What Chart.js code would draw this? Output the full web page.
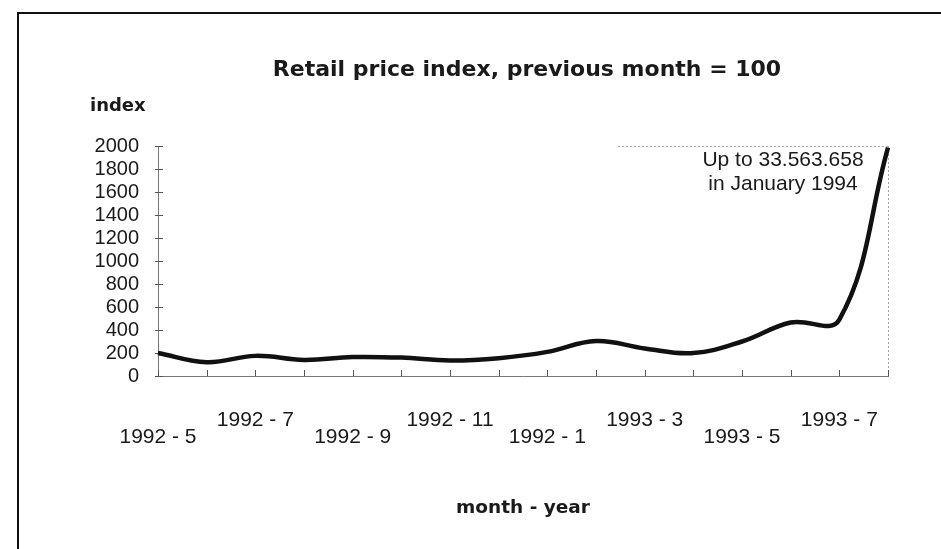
<!DOCTYPE html>
<html>
<head>
<meta charset="utf-8">
<title>Retail price index</title>
<script src="https://cdn.jsdelivr.net/npm/chart.js@4/dist/chart.umd.min.js"></script>
<style>
  html, body { margin: 0; padding: 0; background: #fff; }
  #wrap { width: 941px; height: 549px; position: relative; }
</style>
</head>
<body>
<div id="wrap"><canvas id="chartRpi"></canvas></div>
<script>
// months May 1992 .. Aug 1993
const months = ["1992-05", "1992-06", "1992-07", "1992-08", "1992-09", "1992-10", "1992-11", "1992-12",
                "1993-01", "1993-02", "1993-03", "1993-04", "1993-05", "1993-06", "1993-07", "1993-08"];

// tick labels as printed (every second month, "1992 - 1" kept as in the source)
const tickLabels = ["1992 - 5", "", "1992 - 7", "", "1992 - 9", "", "1992 - 11", "",
                    "1992 - 1", "", "1993 - 3", "", "1993 - 5", "", "1993 - 7", ""];

// retail price index, previous month = 100
const priceIndex = [200, 120, 175, 140, 165, 160, 135, 155, 210, 305, 240, 200, 300, 465, 490, 1985];

const yTicks = [0, 200, 400, 600, 800, 1000, 1200, 1400, 1600, 1800, 2000];

const chartTitle = "Retail price index, previous month = 100";
const yTitle = "index";
const xTitle = "month - year";
const note = ["Up to 33.563.658", "in January 1994"];

const extras = {
  id: "extras",
  beforeDraw(chart) {
    const ctx = chart.ctx;
    ctx.save();
    ctx.fillStyle = "#fff";
    ctx.fillRect(0, 0, chart.width, chart.height);
    ctx.restore();
  },
  beforeDatasetsDraw(chart) {
    const ctx = chart.ctx;
    const a = chart.chartArea;
    const x = chart.scales.x;
    const y = chart.scales.y;
    ctx.save();

    // faint dotted top / right border of the plot
    ctx.strokeStyle = "#a8a8a8";
    ctx.lineWidth = 1;
    ctx.setLineDash([2, 2]);
    ctx.beginPath();
    ctx.moveTo(a.left + (a.right - a.left) * 0.63, a.top + 0.5);
    ctx.lineTo(a.right, a.top + 0.5);
    ctx.moveTo(a.right + 0.5, a.top);
    ctx.lineTo(a.right + 0.5, a.bottom);
    ctx.stroke();
    ctx.setLineDash([]);

    // small tick marks
    ctx.strokeStyle = "#555";
    ctx.beginPath();
    months.forEach((m, i) => {
      const px = Math.round(x.getPixelForValue(i)) + 0.5;
      ctx.moveTo(px, a.bottom - 6);
      ctx.lineTo(px, a.bottom);
    });
    yTicks.forEach(v => {
      const py = Math.round(y.getPixelForValue(v)) + 0.5;
      ctx.moveTo(a.left - 3, py);
      ctx.lineTo(a.left + 5, py);
    });
    ctx.stroke();
    ctx.restore();
  },
  afterDraw(chart) {
    const ctx = chart.ctx;
    ctx.save();

    // scanned frame
    ctx.strokeStyle = "#111";
    ctx.lineWidth = 2;
    ctx.beginPath();
    ctx.moveTo(18, chart.height);
    ctx.lineTo(18, 13);
    ctx.lineTo(chart.width, 13);
    ctx.stroke();

    ctx.fillStyle = "#1a1a1a";
    ctx.textBaseline = "middle";

    ctx.font = "bold 22px 'DejaVu Sans'";
    ctx.textAlign = "center";
    ctx.fillText(chartTitle, 527, 70);

    ctx.font = "bold 18px 'DejaVu Sans'";
    ctx.textAlign = "left";
    ctx.fillText(yTitle, 90, 106);

    ctx.font = "21px 'Liberation Sans'";
    ctx.textAlign = "center";
    ctx.fillText(note[0], 783, 160);
    ctx.fillText(note[1], 783, 184);

    ctx.restore();
  }
};

document.addEventListener("DOMContentLoaded", () => {
  const ctx = document.getElementById("chartRpi");

  new Chart(ctx, {
    type: "line",
    data: {
      labels: months,
      datasets: [{
        label: "Retail price index",
        data: priceIndex,
        borderColor: "#111",
        borderWidth: 4.5,
        pointRadius: 0,
        tension: 0.4,
        fill: false
      }]
    },
    options: {
      responsive: true,
      maintainAspectRatio: false,
      animation: false,
      layout: { padding: { top: 146, left: 84, right: 53, bottom: 0 } },
      plugins: {
        legend: { display: false },
        title: { display: false },
        tooltip: { enabled: false }
      },
      scales: {
        x: {
          offset: false,
          afterFit: scale => { scale.height = 173; },
          grid: { display: false, drawTicks: false },
          border: { display: true, color: "#777", width: 1, dash: [2, 2] },
          ticks: {
            autoSkip: false,
            maxRotation: 0,
            minRotation: 0,
            padding: 36,
            color: "#1a1a1a",
            font: { family: "'Liberation Sans'", size: 21, lineHeight: "17px" },
            callback: (value, index) => {
              const t = tickLabels[index];
              if (!t) return "";
              return (index / 2) % 2 === 0 ? ["", t] : [t, ""];
            }
          },
          title: {
            display: true,
            text: xTitle,
            color: "#1a1a1a",
            font: { family: "'DejaVu Sans'", size: 18.5, weight: "bold" },
            padding: { top: 0, bottom: 30 }
          }
        },
        y: {
          min: 0,
          max: 2000,
          afterFit: scale => { scale.width = 74; },
          afterBuildTicks: scale => { scale.ticks = yTicks.map(v => ({ value: v })); },
          grid: { display: false, drawTicks: false },
          border: { display: true, color: "#777", width: 1, dash: [2, 2] },
          ticks: {
            autoSkip: false,
            padding: 19,
            color: "#1a1a1a",
            font: { family: "'Liberation Sans'", size: 20 },
            callback: value => String(value)
          }
        }
      }
    },
    plugins: [extras]
  });
});
</script>
</body>
</html>
